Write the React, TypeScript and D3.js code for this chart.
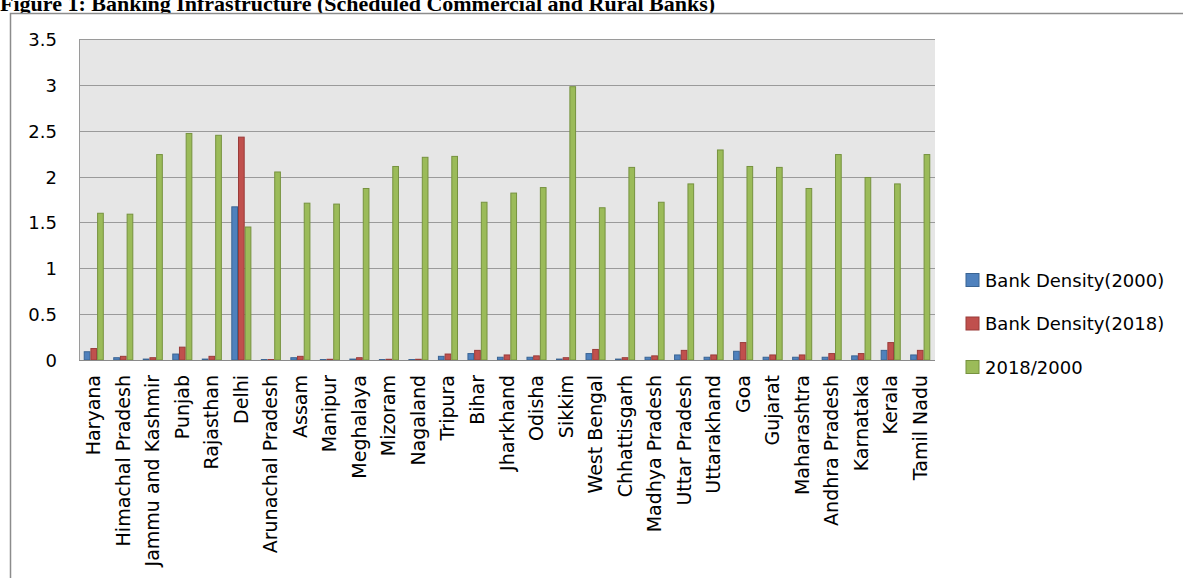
import React from "react";
import * as d3 from "d3";

const categories = ["Haryana","Himachal Pradesh","Jammu and Kashmir","Punjab","Rajasthan","Delhi","Arunachal Pradesh","Assam","Manipur","Meghalaya","Mizoram","Nagaland","Tripura","Bihar","Jharkhand","Odisha","Sikkim","West Bengal","Chhattisgarh","Madhya Pradesh","Uttar Pradesh","Uttarakhand","Goa","Gujarat","Maharashtra","Andhra Pradesh","Karnataka","Kerala","Tamil Nadu"];
const density2000 = [0.09,0.025,0.01,0.065,0.01,1.67,0.005,0.025,0.005,0.01,0.005,0.005,0.04,0.07,0.03,0.03,0.01,0.07,0.01,0.03,0.055,0.03,0.095,0.03,0.03,0.03,0.045,0.105,0.055];
const density2018 = [0.125,0.04,0.025,0.14,0.04,2.43,0.005,0.04,0.008,0.025,0.008,0.008,0.065,0.105,0.055,0.045,0.025,0.115,0.025,0.045,0.105,0.055,0.19,0.055,0.055,0.07,0.07,0.19,0.105];
const ratio = [1.6,1.59,2.24,2.47,2.45,1.45,2.05,1.71,1.70,1.87,2.11,2.21,2.22,1.72,1.82,1.88,2.98,1.66,2.10,1.72,1.92,2.29,2.11,2.10,1.87,2.24,1.99,1.92,2.24];
const seriesNames = ["Bank Density(2000)","Bank Density(2018)","2018/2000"];
const yTicks = [0,0.5,1,1.5,2,2.5,3,3.5];

const fills = ["#4F81BD","#C0504D","#9BBB59"];
const strokes = ["#3A6493","#9A3B39","#76923F"];

export default function App() {
  const W = 1183, H = 578;
  const left = 79, right = 935, top = 39, bottom = 360;
  const x = d3.scaleBand().domain(categories).range([left, right]).paddingInner(0.32).paddingOuter(0.16);
  const sub = d3.scaleBand().domain(["0","1","2"]).range([0, x.bandwidth()]).padding(0);
  const y = d3.scaleLinear().domain([0, 3.5]).range([bottom, top]);
  const series = [density2000, density2018, ratio];
  const font = "'DejaVu Sans', sans-serif";

  return (
    <svg width={W} height={H} style={{ position: "absolute", left: 0, top: 0, background: "#fff" }}>
      <text x={0} y={11} fontFamily="'Liberation Serif', serif" fontWeight="bold" fontSize={22} fill="#000">
        Figure 1: Banking Infrastructure (Scheduled Commercial and Rural Banks)
      </text>
      <rect x={10.5} y={13.5} width={W} height={H} fill="#fff" stroke="#8c8c8c" strokeWidth={1.5} />
      <rect x={left} y={top} width={right - left} height={bottom - top} fill="#E6E6E6" />
      {yTicks.map(t => (
        <line key={t} x1={left} x2={right} y1={Math.round(y(t)) + 0.5} y2={Math.round(y(t)) + 0.5} stroke="#9a9a9a" strokeWidth={1} />
      ))}
      <line x1={left + 0.5} x2={left + 0.5} y1={top} y2={bottom} stroke="#9a9a9a" />
      {yTicks.map(t => (
        <text key={"l" + t} x={57} y={y(t) + 7} textAnchor="end" fontFamily={font} fontSize={18} fill="#000">{t}</text>
      ))}
      {series.map((vals, si) => (
        <g key={si}>
          {vals.map((v, i) => {
            const bx = (x(categories[i]) as number) + (sub(String(si)) as number);
            return (
              <rect key={i} x={bx + 0.5} y={y(v)} width={sub.bandwidth() - 1} height={y(0) - y(v)}
                fill={fills[si]} stroke={strokes[si]} strokeWidth={1} />
            );
          })}
        </g>
      ))}
      <line x1={left} x2={right} y1={bottom + 0.5} y2={bottom + 0.5} stroke="#8a8a8a" />
      {categories.map(c => {
        const cx = (x(c) as number) + x.bandwidth() / 2;
        return (
          <text key={c} transform={`translate(${cx + 6.5},${375}) rotate(-90)`} textAnchor="end"
            fontFamily={font} fontSize={19} fill="#000">{c}</text>
        );
      })}
      {seriesNames.map((n, i) => (
        <g key={n} transform={`translate(966,${280 + i * 43.5})`}>
          <rect x={0} y={-6.5} width={13} height={13} fill={fills[i]} stroke={strokes[i]} />
          <text x={19} y={6.5} fontFamily={font} fontSize={18} fill="#000">{n}</text>
        </g>
      ))}
    </svg>
  );
}
